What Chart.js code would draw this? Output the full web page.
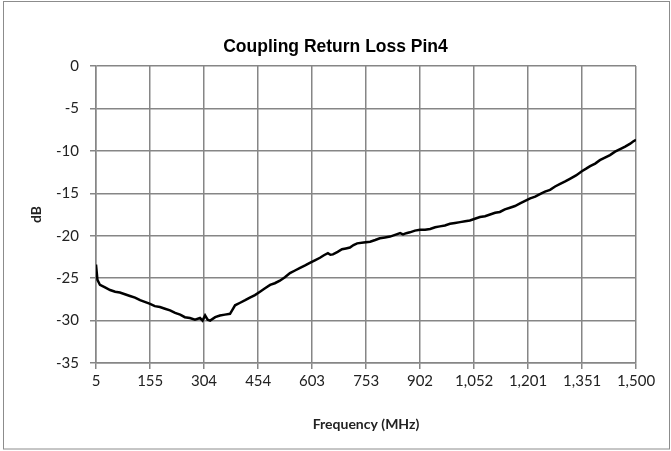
<!DOCTYPE html>
<html>
<head>
<meta charset="utf-8">
<script src="https://cdn.jsdelivr.net/npm/chart.js@4.4.1/dist/chart.umd.min.js"></script>
<style>
    html, body { margin: 0; padding: 0; background: #fff; }
    #wrap { position: relative; width: 671px; height: 451px; }
</style>
</head>
<body>
<div id="wrap"><canvas id="wykres"></canvas></div>
<script>
// czestotliwosc (MHz) i straty odbiciowe (dB)
const freq = [
    5, 9, 16, 30, 44, 58, 71, 85, 99, 113,
    127, 140, 153, 168, 182, 196, 210, 224, 238, 251,
    265, 279, 293, 300, 307, 314, 321, 335, 348, 362,
    376, 383, 390, 404, 418, 431, 445, 459, 473, 487,
    500, 514, 528, 542, 556, 570, 584, 597, 611, 625,
    636, 647, 654, 661, 674, 686, 697, 708, 718, 728,
    746, 764, 778, 791, 805, 819, 833, 847, 855, 864,
    874, 888, 902, 916, 930, 944, 957, 971, 985, 999,
    1013, 1027, 1040, 1054, 1068, 1082, 1096, 1110, 1123, 1137,
    1151, 1165, 1179, 1193, 1207, 1221, 1234, 1248, 1262, 1276,
    1290, 1304, 1317, 1334, 1350, 1362, 1373, 1387, 1400, 1414,
    1428, 1442, 1456, 1470, 1484, 1492, 1500
];
const dB = [
    -23.4, -25.2, -25.8, -26.1, -26.4, -26.6, -26.7, -26.9, -27.1, -27.3,
    -27.6, -27.8, -28.0, -28.3, -28.4, -28.6, -28.8, -29.1, -29.3, -29.6,
    -29.7, -29.9, -29.7, -30.0, -29.4, -29.9, -30.0, -29.6, -29.4, -29.3,
    -29.2, -28.7, -28.2, -27.9, -27.6, -27.3, -27.0, -26.6, -26.2, -25.8,
    -25.6, -25.3, -24.9, -24.4, -24.1, -23.8, -23.5, -23.2, -22.9, -22.6,
    -22.3, -22.05, -22.25, -22.2, -21.9, -21.6, -21.5, -21.4, -21.1, -20.9,
    -20.8, -20.7, -20.5, -20.3, -20.2, -20.1, -19.9, -19.7, -19.85, -19.7,
    -19.6, -19.4, -19.3, -19.3, -19.2, -19.0, -18.9, -18.8, -18.6, -18.5,
    -18.4, -18.3, -18.2, -18.0, -17.8, -17.7, -17.5, -17.3, -17.2, -16.9,
    -16.7, -16.5, -16.2, -15.9, -15.6, -15.4, -15.1, -14.8, -14.6, -14.2,
    -13.9, -13.6, -13.3, -12.9, -12.4, -12.1, -11.8, -11.5, -11.1, -10.8,
    -10.5, -10.1, -9.8, -9.5, -9.15, -8.9, -8.7
];

const xTicks = [5, 155, 304, 454, 603, 753, 902, 1052, 1201, 1351, 1500];
const xLabels = ["5", "155", "304", "454", "603", "753", "902", "1,052", "1,201", "1,351", "1,500"];

const gridColor = "#868686";
const fontFam = "Lato, 'Open Sans', sans-serif";
const tickFont = { family: fontFam, size: 15 };

// ramka wokol calego wykresu
const ramka = {
    id: "ramka",
    beforeDraw(chart) {
        const c = chart.ctx;
        c.save();
        c.fillStyle = "#fff";
        c.fillRect(0, 0, chart.width, chart.height);
        c.strokeStyle = "#8c8c8c";
        c.lineWidth = 1;
        c.strokeRect(3.5, 1.5, 666, 447.5);
        c.restore();
    }
};

let ctx = document.getElementById("wykres").getContext("2d");
let lineChart = new Chart(ctx, {
    type: "line",
    data: {
        datasets: [
            {
                label: "Pin4",
                data: freq.map((f, i) => ({ x: f, y: dB[i] })),
                borderColor: "#000",
                borderWidth: 2.5,
                pointRadius: 0,
                tension: 0,
                fill: false
            }
        ]
    },
    options: {
        responsive: true,
        maintainAspectRatio: false,
        animation: false,
        layout: { padding: 0 },
        scales: {
            x: {
                type: "linear",
                min: 5,
                max: 1500,
                afterBuildTicks: axis => { axis.ticks = xTicks.map(v => ({ value: v })); },
                afterFit: scale => { scale.height = 88; },
                grid: { color: gridColor, lineWidth: 1.5, tickLength: 6 },
                border: { color: gridColor, width: 1.5 },
                ticks: {
                    autoSkip: false,
                    maxRotation: 0,
                    padding: 3,
                    color: "#222",
                    font: tickFont,
                    callback: (v, i) => xLabels[i]
                },
                title: {
                    display: true,
                    text: "Frequency (MHz)",
                    color: "#222",
                    font: { family: fontFam, size: 14, weight: "bold" },
                    padding: { top: 0, bottom: 18 }
                }
            },
            y: {
                min: -35,
                max: 0,
                afterFit: scale => { scale.width = 96; },
                grid: { color: gridColor, lineWidth: 1.5, tickLength: 6 },
                border: { color: gridColor, width: 1.5 },
                ticks: {
                    stepSize: 5,
                    padding: 11,
                    color: "#222",
                    font: tickFont,
                    callback: v => String(v)
                },
                title: {
                    display: true,
                    text: "dB",
                    color: "#222",
                    font: { family: fontFam, size: 14, weight: "bold" },
                    padding: { top: 28, bottom: 0 }
                }
            },
            // pusty margines z prawej strony, zeby tytul byl na srodku
            prawy: {
                type: "linear",
                position: "right",
                display: true,
                afterFit: scale => { scale.width = 35; },
                grid: { display: false, drawTicks: false },
                border: { display: false },
                ticks: { display: false }
            }
        },
        plugins: {
            legend: { display: false },
            tooltip: { enabled: false },
            title: {
                display: true,
                text: "Coupling Return Loss Pin4",
                color: "#000",
                font: { family: "'Liberation Sans', Arial, sans-serif", size: 17.5, weight: "bold" },
                padding: { top: 37, bottom: 8 }
            }
        }
    },
    plugins: [ramka]
});
</script>
</body>
</html>
